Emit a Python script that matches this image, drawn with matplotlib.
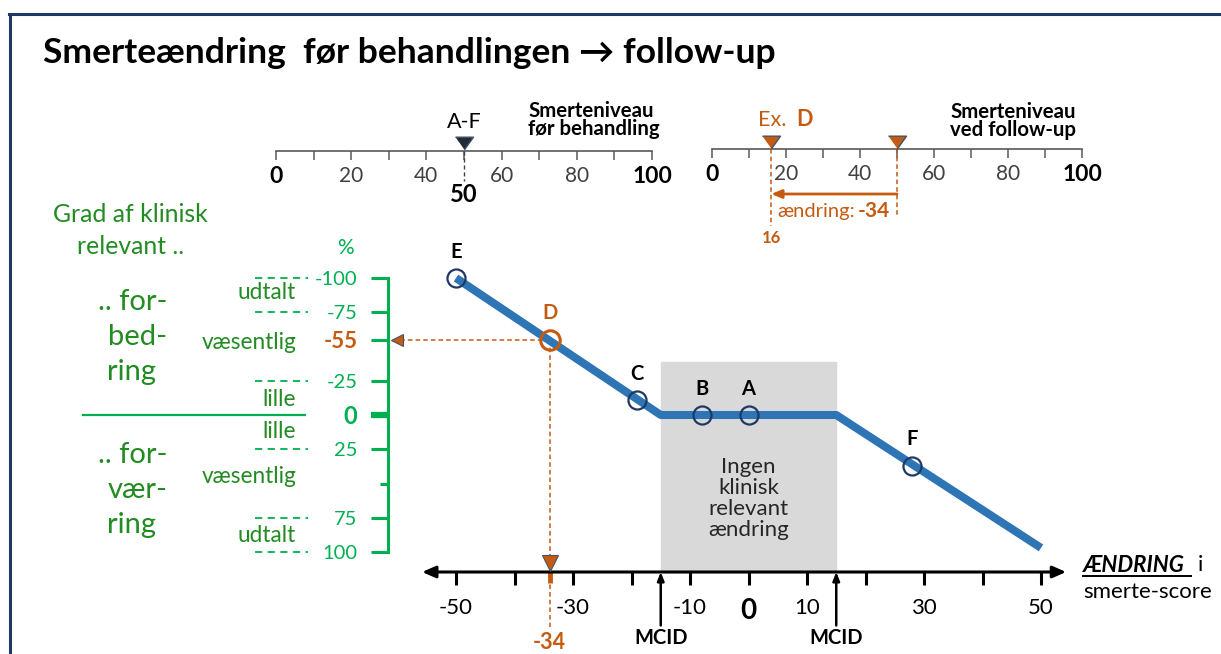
import matplotlib
matplotlib.use("Agg")
import matplotlib.pyplot as plt
from matplotlib.lines import Line2D
from matplotlib.patches import Rectangle
from matplotlib.transforms import Affine2D, blended_transform_factory

# data
point_names = ["A", "B", "C", "D", "E", "F"]
point_change = [0, -8, -19, -34, -50, 28]
point_pct = [0, 0, -11, -55, -100, 37]

curve_change = [-50, -15, 15, 50]
curve_pct = [-100, 0, 0, 97]

mcid = [-15, 15]

change_ticks = [-50, -40, -30, -20, -10, 0, 10, 20, 30, 40, 50]
change_labels = ["-50", "", "-30", "", "-10", "0", "10", "", "30", "", "50"]

pct_ticks = [-100, -75, -55, -25, 0, 25, 50, 75, 100]
pct_labels = ["-100", "-75", "-55", "-25", "0", "25", "", "75", "100"]
band_lines = [-100, -75, -25, 25, 75, 100]

level_ticks = [0, 20, 40, 60, 80, 100]
level_minor = [10, 30, 50, 70, 90]
level_before = 50
level_followup_d = 16
change_d = level_followup_d - level_before

GREEN = "#00b050"
DKGREEN = "#228b22"
ORANGE = "#c55a11"
BLUE = "#2e75b6"
NAVY = "#1f3864"
GRAY = "#d9d9d9"
TXT = "#404040"

plt.rcParams["font.family"] = ["Lato", "DejaVu Sans"]

W, H = 1221, 654
fig = plt.figure(figsize=(W / 100, H / 100), dpi=100)
px = Affine2D().scale(1 / W, -1 / H).translate(0, 1) + fig.transFigure

# frame and title
fig.add_artist(Line2D([9, W], [14, 14], transform=px, color=NAVY, lw=2.2))
fig.add_artist(Line2D([10, 10], [14, H], transform=px, color=NAVY, lw=2.2))
fig.text(43, 53, "Smerteændring  før behandlingen → follow-up", transform=px,
         fontsize=25.5, fontweight="bold", va="center", ha="left")

# ---- main chart: change in score vs. percent ----
ax = fig.add_axes([456 / W, 1 - 552 / H, 585 / W, 274 / H])
ax.set_xlim(-50, 50)
ax.set_ylim(100, -100)
ax.patch.set_alpha(0)
ax.spines["top"].set_visible(False)
ax.spines["right"].set_visible(False)

AXIS_Y = 114.6

ax.spines["left"].set_position(("outward", 49))
ax.spines["left"].set_color(GREEN)
ax.spines["left"].set_linewidth(2.2)
ax.spines["left"].set_bounds(-100, 100)
ax.set_yticks(pct_ticks, pct_labels)
ax.tick_params(axis="y", direction="out", length=12, width=2.2, color=GREEN,
               labelcolor=GREEN, labelsize=14.5, pad=10)
for t, v in zip(ax.yaxis.get_major_ticks(), pct_ticks):
    if v == 50:
        t.tick1line.set_markersize(6)
    if v == 0:
        t.tick1line.set_markeredgewidth(4.5)
        t.label1.set_fontweight("bold")
        t.label1.set_fontsize(17)
    if v == point_pct[3]:
        t.label1.set_color(ORANGE)
        t.label1.set_fontweight("bold")
        t.label1.set_fontsize(16)

ax.spines["bottom"].set_position(("data", AXIS_Y))
ax.spines["bottom"].set_visible(False)
ax.set_xticks(change_ticks, change_labels)
ax.tick_params(axis="x", direction="out", length=9, width=2.2, color="black",
               labelsize=16, pad=10)
for t, v in zip(ax.xaxis.get_major_ticks(), change_ticks):
    if v == 0:
        t.label1.set_fontweight("bold")
        t.label1.set_fontsize(20)

ax.annotate("", xy=(-55.8, AXIS_Y), xytext=(54.3, AXIS_Y), annotation_clip=False,
            arrowprops=dict(arrowstyle="<|-|>,head_length=0.8,head_width=0.35",
                            color="black", lw=2.2, shrinkA=0, shrinkB=0))

# no clinically relevant change zone
ax.add_patch(Rectangle((mcid[0], -38.5), mcid[1] - mcid[0], AXIS_Y + 38.5,
                       color=GRAY, clip_on=False, zorder=0))
ax.text(0, 61, "Ingen\nklinisk\nrelevant\nændring", ha="center", va="center",
        fontsize=16, linespacing=1.05, color="#262626")

for m in mcid:
    ax.annotate("", xy=(m, AXIS_Y), xytext=(m, AXIS_Y + 39), annotation_clip=False,
                arrowprops=dict(arrowstyle="-|>,head_length=0.5,head_width=0.2",
                                color="black", lw=1.8, shrinkA=0, shrinkB=0))
    ax.text(m, 163, "MCID", ha="center", va="center", fontsize=14.5,
            fontweight="bold", clip_on=False)

ax.plot(curve_change, curve_pct, color=BLUE, lw=5.8, solid_capstyle="butt",
        zorder=2, clip_on=False)

for name, x, y in zip(point_names, point_change, point_pct):
    is_d = name == "D"
    ax.plot(x, y, "o", mfc="none", mec=ORANGE if is_d else NAVY,
            ms=14 if is_d else 13, mew=2.2 if is_d else 1.6, zorder=3,
            clip_on=False)
    ax.annotate(name, (x, y), xytext=(0, 19), textcoords="offset points",
                ha="center", va="center", fontsize=14.5, fontweight="bold",
                color=ORANGE if is_d else "black")

# guides for example D
dx, dy = point_change[3], point_pct[3]
ax.plot([dx, -60.1], [dy, dy], ls=(0, (3, 2)), color=ORANGE, lw=1.1,
        clip_on=False, zorder=1)
ax.plot(-60.1, dy, marker="<", ms=9, mfc=ORANGE, mec="#44546a", mew=0.8,
        clip_on=False)
ax.plot([dx, dx], [dy, 155], ls=(0, (3, 2)), color=ORANGE, lw=1.1,
        clip_on=False, zorder=1)
ax.plot([dx, dx], [AXIS_Y, AXIS_Y + 8], color=ORANGE, lw=3.5,
        solid_capstyle="butt", clip_on=False)
ax.plot(dx, AXIS_Y - 6.6, marker="v", ms=11, mfc=ORANGE, mec="#44546a",
        mew=0.8, clip_on=False, zorder=4)
ax.text(dx, 165.7, f"{dx}", ha="center", va="center", fontsize=15.5,
        fontweight="bold", color=ORANGE)

# green band guides on the left
trans = blended_transform_factory(px, ax.transData)
for v in band_lines:
    ax.plot([255, 308], [v, v], transform=trans, ls=(0, (4, 3)), color=GREEN,
            lw=1.3, clip_on=False)
ax.plot([83, 305], [0, 0], transform=trans, color=GREEN, lw=1.6, clip_on=False)
fig.text(345, 248, "%", transform=px, ha="center", va="center", fontsize=15,
         color=GREEN)

for s, y in [("udtalt", 299), ("væsentlig", 349), ("lille", 406),
             ("lille", 438), ("væsentlig", 483), ("udtalt", 542)]:
    fig.text(296, y, s, transform=px, ha="right", va="baseline",
             fontsize=16.3, color=DKGREEN)

fig.text(53, 214, "Grad af klinisk", transform=px, ha="left", va="center",
         fontsize=17.8, color=DKGREEN)
fig.text(77, 247, "relevant ..", transform=px, ha="left", va="center",
         fontsize=17.8, color=DKGREEN)
for s, x, y in [(".. for-", 98, 302), ("bed-", 108, 337), ("ring", 107, 372),
                (".. for-", 98, 455), ("vær-", 108, 490), ("ring", 107, 525)]:
    fig.text(x, y, s, transform=px, ha="left", va="center", fontsize=21,
             color=DKGREEN)

# x-axis caption
fig.text(1083, 565, "ÆNDRING", transform=px, ha="left", va="center",
         fontsize=16, fontweight="bold", style="italic")
fig.add_artist(Line2D([1083, 1191], [576, 576], transform=px, color="black",
                      lw=1.4))
fig.text(1198, 565, "i", transform=px, ha="left", va="center", fontsize=16)
fig.text(1083, 592, "smerte-score", transform=px, ha="left", va="center",
         fontsize=16)

tri = [(-1, 0.7), (1, 0.7), (0, -0.7)]


def level_scale(rect):
    a = fig.add_axes(rect)
    a.set_xlim(0, 100)
    a.set_ylim(0, 1)
    a.patch.set_alpha(0)
    for s in ["top", "left", "right"]:
        a.spines[s].set_visible(False)
    a.spines["bottom"].set_color("#595959")
    a.spines["bottom"].set_linewidth(1.2)
    a.set_yticks([])
    a.set_xticks(level_ticks, [str(v) for v in level_ticks])
    a.set_xticks(level_minor, minor=True)
    a.tick_params(axis="x", which="both", direction="out", length=6.5,
                  width=1.1, color="#595959", labelsize=15, labelcolor=TXT,
                  pad=4)
    for t, v in zip(a.xaxis.get_major_ticks(), level_ticks):
        if v in (0, 100):
            t.label1.set_fontweight("bold")
            t.label1.set_color("black")
            t.label1.set_fontsize(16.5)
    return a


# ---- pain level before treatment ----
pre = level_scale([276 / W, 1 - 151 / H, 376 / W, 50 / H])
pre.plot(level_before, 0.16, marker=tri, ms=13, mfc="#222a35", mec="#44546a",
         clip_on=False)
pre.plot([level_before, level_before], [0, -0.6], ls=(0, (3, 2)), color=TXT,
         lw=1, clip_on=False)
pre.text(level_before, -0.86, f"{level_before}", ha="center", va="center",
         fontsize=17, fontweight="bold")
pre.text(level_before, 0.58, "A-F", ha="center", va="center", fontsize=15.5)
fig.text(528, 120, "Smerteniveau\nfør behandling", transform=px, ha="left",
         va="center", fontsize=14.7, fontweight="bold", linespacing=0.85)

# ---- pain level at follow-up ----
post = level_scale([712 / W, 1 - 149 / H, 370 / W, 50 / H])
for lv in [level_followup_d, level_before]:
    post.plot(lv, 0.15, marker=tri, ms=13, mfc=ORANGE, mec="#44546a",
              clip_on=False)
post.plot([level_followup_d] * 2, [0, -1.54], ls=(0, (3, 2)), color=ORANGE,
          lw=1.1, clip_on=False)
post.plot([level_before] * 2, [0, -1.36], ls=(0, (3, 2)), color=ORANGE,
          lw=1.1, clip_on=False)
post.annotate("", xy=(level_followup_d, -0.9), xytext=(level_before, -0.9),
              annotation_clip=False,
              arrowprops=dict(arrowstyle="-|>,head_length=0.6,head_width=0.25",
                              color=ORANGE, lw=2, shrinkA=0, shrinkB=0))
post.text(17.8, -1.24, "ændring:", ha="left", va="center", fontsize=14.5,
          color=ORANGE)
post.text(48.1, -1.24, f"{change_d}", ha="right", va="center", fontsize=15,
          color=ORANGE, fontweight="bold")
post.text(level_followup_d, -1.78, f"{level_followup_d}", ha="center",
          va="center", fontsize=12, color=ORANGE, fontweight="bold")
fig.text(758, 120, "Ex.", transform=px, ha="left", va="center", fontsize=15.5,
         color=ORANGE)
fig.text(796, 120, "D", transform=px, ha="left", va="center", fontsize=15.5,
         color=ORANGE, fontweight="bold")
fig.text(950, 121, "Smerteniveau\nved follow-up", transform=px, ha="left",
         va="center", fontsize=14.7, fontweight="bold", linespacing=0.85)

fig.savefig("out.png", dpi=100)
